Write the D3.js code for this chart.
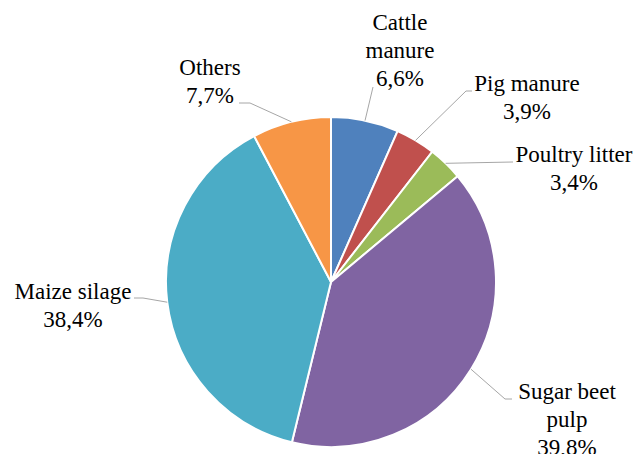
<!DOCTYPE html>
<html><head><meta charset="utf-8">
<script src="https://cdn.jsdelivr.net/npm/d3@7"></script>
<style>body{margin:0;background:#fff}svg{display:block}
text{font-family:"Liberation Serif","Times New Roman",Times,"DejaVu Serif",serif;}</style>
</head><body>
<script>
const categories = ["Cattle manure","Pig manure","Poultry litter","Sugar beet pulp","Maize silage","Others"];
const values = [6.6, 3.9, 3.4, 39.8, 38.4, 7.7];
const valueLabels = ["6,6%","3,9%","3,4%","39,8%","38,4%","7,7%"];
const colors = ["#4f81bd","#c0504d","#9bbb59","#8064a2","#4bacc6","#f79646"];

// label layout: text lines, text center x, first baseline y, leader elbow & end
const layout = [
  {lines:["Cattle","manure"], x:400, y:30, elbow:null, end:[373,87]},
  {lines:["Pig manure"], x:527, y:91, elbow:[466,91], end:[472,91]},
  {lines:["Poultry litter"], x:574, y:162, elbow:null, end:[513,162]},
  {lines:["Sugar beet","pulp"], x:567, y:399, elbow:[505,399], end:[512,399]},
  {lines:["Maize silage"], x:73, y:299, elbow:[143,298], end:[134,298]},
  {lines:["Others"], x:210, y:75, elbow:[250,103], end:[239,103]}
];

const W=638,H=454, cx=331, cy=282, R=165;
const svg=d3.select("body").append("svg").attr("width",W).attr("height",H);
const g=svg.append("g").attr("transform",`translate(${cx},${cy})`);
const pie=d3.pie().sort(null).value(d=>d)(values);
const arc=d3.arc().innerRadius(0).outerRadius(R);
g.selectAll("path.slice").data(pie).join("path").attr("class","slice")
 .attr("d",arc).attr("fill",(d,i)=>colors[i]).attr("stroke","#fff").attr("stroke-width",2);

const lh=28;
pie.forEach((d,i)=>{
  const a=(d.startAngle+d.endAngle)/2;
  const sx=cx+R*Math.sin(a), sy=cy-R*Math.cos(a);
  const L=layout[i];
  const pts=[[sx,sy]];
  if(L.elbow) pts.push(L.elbow);
  pts.push(L.end);
  svg.append("path").attr("d",d3.line()(pts)).attr("fill","none")
    .attr("stroke","#a6a6a6").attr("stroke-width",1);
  const t=svg.append("text").attr("text-anchor","middle")
    .attr("font-size",23).attr("fill","#000");
  const all=L.lines.concat([valueLabels[i]]);
  all.forEach((s,k)=>t.append("tspan").attr("x",L.x).attr("y",L.y+k*lh).text(s));
});
</script>
</body></html>
